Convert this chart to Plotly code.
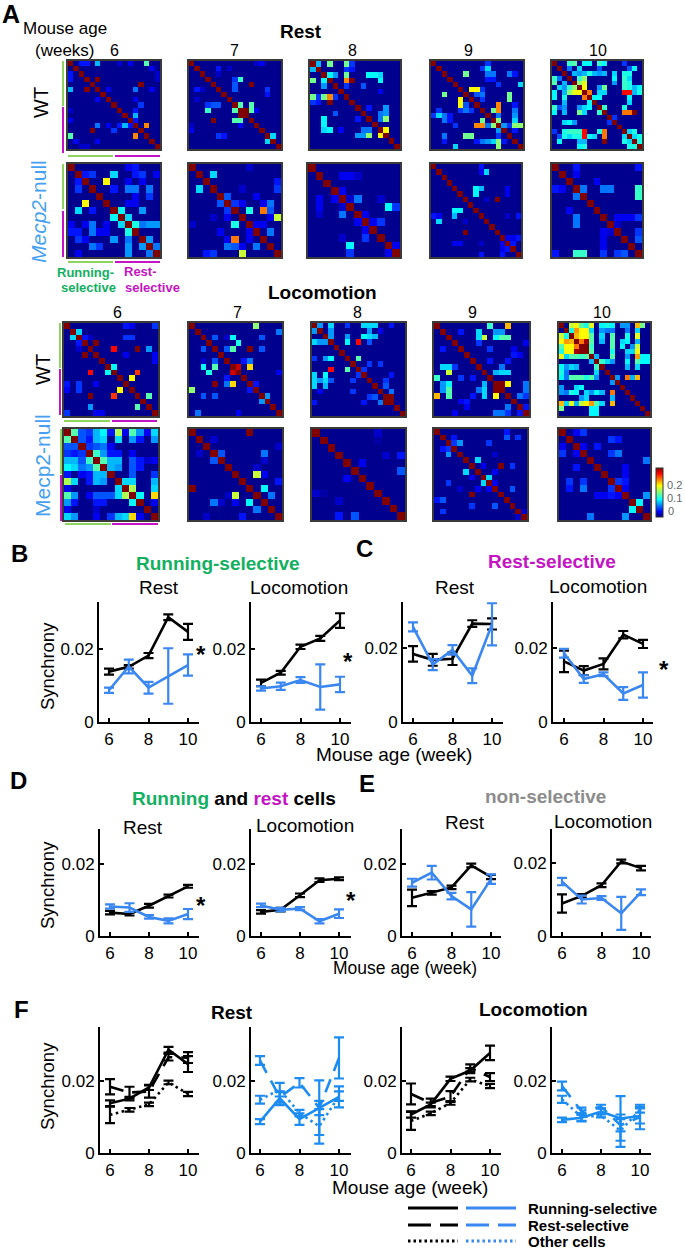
"""Synchrony matrices and synchrony vs. age panels (A-F)"""

import plotly.graph_objects as go

W, H = 685, 1250

# ---- panel A: sparse symmetric matrices, (row, col, synchrony) ----
rest_wt_sizes = [17, 17, 16, 17, 18]
rest_ko_sizes = [13, 13, 12, 17, 13]
loco_wt_sizes = [16, 16, 17, 16, 18]
loco_ko_sizes = [13, 13, 12, 16, 13]

rest_wt_6 = [(0, 5, .09), (0, 14, .14), (0, 2, .04), (0, 3, .04), (0, 9, .02), (0, 11, .03), (3, 5, .31),
             (4, 13, .31), (5, 12, .07), (10, 12, .09), (12, 14, .235), (8, 13, .05), (5, 15, .03),
             (9, 12, .04), (11, 12, .04), (2, 16, .02), (5, 7, .03), (1, 15, .03), (3, 16, .02), (7, 12, .03)]
rest_wt_7 = [(3, 9, .13), (4, 8, .06), (4, 11, .31), (8, 9, .14), (8, 11, .14), (9, 11, .14), (5, 8, .06),
             (9, 10, .31), (5, 14, .05), (14, 15, .1), (9, 12, .03), (6, 14, .04), (1, 5, .04), (0, 13, .03),
             (2, 5, .02), (0, 12, .02), (3, 8, .05), (1, 7, .02)]
rest_wt_8 = [(0, 1, .09), (0, 3, .15), (0, 6, .15), (2, 3, .11), (3, 2, .11), (2, 4, .08), (0, 6, .15),
             (3, 6, .235), (3, 7, .31), (2, 11, .11), (2, 10, .11), (3, 12, .11), (2, 12, .1), (4, 9, .06),
             (8, 13, .08), (9, 13, .08), (10, 13, .16), (9, 12, .07), (10, 12, .07), (12, 13, .2), (2, 6, .15),
             (0, 7, .05), (1, 7, .04), (5, 12, .03), (8, 10, .04), (4, 6, .05), (1, 6, .05)]
rest_wt_9 = [(2, 6, .15), (5, 7, .2), (5, 8, .16), (1, 10, .1), (2, 14, .08), (4, 16, .1), (6, 14, .15),
             (7, 14, .15), (1, 9, .05), (2, 11, .07), (2, 10, .07), (4, 12, .05), (6, 9, .07),
             (6, 8, .06), (7, 9, .05), (0, 10, .05), (2, 15, .04), (8, 5, .2), (9, 11, .15), (9, 12, .235),
             (12, 8, .235), (9, 15, .07), (11, 15, .1), (12, 15, .16), (12, 16, .16), (11, 12, .16),
             (2, 14, .07), (10, 12, .07), (12, 13, .08), (10, 15, .08), (8, 15, .04),
             (3, 11, .04), (3, 10, .04), (5, 9, .05), (12, 14, .05), (13, 15, .04)]
rest_wt_10 = [(0, 3, .13), (0, 4, .14), (0, 6, .11), (0, 7, .11), (0, 10, .1), (1, 3, .07), (1, 16, .13),
              (1, 15, .06), (2, 5, .08), (2, 6, .09), (2, 7, .12), (2, 8, .09), (2, 9, .08), (2, 12, .1),
              (2, 15, .12), (3, 6, .16), (4, 6, .19), (5, 6, .2), (6, 7, .24), (3, 5, .13), (4, 5, .16),
              (1, 5, .1), (2, 4, .09), (6, 10, .1), (6, 9, .1), (5, 10, .08), (5, 9, .08), (6, 15, .275),
              (5, 15, .12), (4, 15, .12), (3, 15, .1), (7, 15, .11), (6, 17, .12), (5, 17, .11), (0, 10, .11),
              (2, 10, .09), (5, 10, .15), (9, 10, .13), (10, 14, .15), (10, 15, .24), (10, 16, .31), (6, 9, .1),
              (7, 9, .11), (3, 12, .11), (4, 12, .08), (0, 14, .05), (2, 14, .12), (3, 14, .13), (4, 14, .13),
              (5, 14, .13), (6, 14, .275), (9, 14, .12), (10, 14, .24), (14, 16, .12), (14, 15, .1),
              (10, 16, .31), (1, 16, .11), (5, 16, .09), (6, 16, .09), (15, 16, .1), (16, 17, .12), (15, 17, .12),
              (0, 9, .13), (1, 9, .06), (7, 8, .11), (8, 15, .1), (11, 12, .05)]

rest_ko_6 = [(1, 6, .1), (2, 5, .2), (1, 2, .04), (1, 3, .05), (3, 8, .08), (3, 9, .07), (3, 6, .04),
             (3, 11, .07), (6, 7, .11), (6, 10, .08), (7, 8, .1), (8, 9, .12), (8, 10, .08), (8, 11, .08),
             (3, 8, .07), (3, 9, .07), (3, 11, .07), (4, 11, .05), (6, 10, .08), (8, 10, .07), (10, 11, .08),
             (8, 12, .08), (11, 12, .07), (1, 10, .05), (0, 9, .04), (0, 8, .03), (1, 9, .04), (2, 10, .03),
             (4, 9, .03), (5, 8, .03), (5, 9, .03), (2, 8, .03), (1, 12, .03)]
rest_ko_7 = [(1, 3, .1), (4, 5, .06), (5, 6, .05), (6, 8, .12), (6, 10, .24), (5, 11, .07), (7, 12, .18),
             (4, 9, .03), (5, 7, .03), (6, 11, .06), (9, 11, .07), (2, 12, .04), (3, 12, .05), (8, 10, .03),
             (7, 11, .03), (5, 10, .03), (0, 8, .02), (3, 7, .02), (8, 9, .03)]
rest_ko_8 = [(1, 4, .03), (1, 5, .03), (1, 6, .02), (4, 6, .07), (5, 10, .11), (5, 11, .05), (4, 5, .02),
             (7, 9, .05), (7, 8, .03), (5, 11, .05), (6, 7, .03), (10, 11, .03), (4, 9, .02), (3, 4, .03)]
rest_ko_9 = [(1, 10, .11), (4, 8, .11), (4, 9, .09), (5, 8, .11), (6, 12, .31), (1, 9, .03),
             (0, 9, .03), (9, 0, .04), (10, 1, .1), (5, 14, .03), (9, 16, .04), (13, 16, .04),
             (4, 14, .03), (14, 15, .04), (9, 14, .02), (13, 14, .03), (13, 15, .03), (6, 10, .02)]
rest_ko_10 = [(3, 4, .07), (0, 3, .05), (3, 7, .07), (3, 8, .07), (3, 12, .13), (4, 12, .13), (3, 0, .04),
              (7, 12, .05), (2, 6, .03), (9, 12, .05), (10, 12, .06), (7, 9, .03),
              (7, 10, .03), (7, 11, .03), (8, 9, .02), (1, 3, .03), (0, 12, .04)]

loco_wt_6 = [(1, 2, .1), (4, 8, .275), (3, 5, .31), (4, 12, .31), (4, 14, .08), (7, 8, .11), (9, 11, .2),
             (8, 12, .26), (12, 14, .14), (0, 15, .05), (0, 10, .04), (2, 10, .05), (2, 11, .05),
             (0, 11, .03), (6, 15, .03), (5, 15, .03), (2, 3, .04), (2, 4, .02), (5, 10, .03)]
loco_wt_7 = [(0, 11, .16), (1, 15, .08), (2, 7, .11), (3, 8, .12), (4, 7, .14), (2, 4, .06), (2, 6, .02),
             (4, 6, .06), (4, 10, .31), (2, 12, .05), (4, 12, .05), (7, 8, .29), (7, 10, .21), (6, 10, .07),
             (2, 12, .06), (4, 12, .06), (1, 15, .07), (12, 13, .08), (8, 15, .03), (6, 9, .04), (10, 11, .04)]
loco_wt_8 = [(0, 1, .08), (0, 3, .1), (0, 9, .1), (0, 10, .1), (0, 11, .06), (0, 14, .04), (1, 3, .08), (2, 3, .08),
             (3, 6, .11), (3, 8, .275), (2, 9, .11), (2, 10, .1), (6, 8, .14), (2, 6, .08), (0, 6, .05),
             (0, 11, .1), (1, 10, .08), (2, 11, .09), (3, 10, .06), (7, 10, .05), (8, 9, .05), (7, 12, .05),
             (10, 13, .05), (12, 14, .07), (13, 14, .31), (11, 13, .06), (0, 14, .04), (1, 12, .03), (9, 14, .04)]
loco_wt_9 = [(0, 9, .13), (0, 12, .22), (1, 7, .1), (2, 8, .18), (2, 7, .1), (2, 11, .14), (2, 12, .14),
             (2, 10, .11), (8, 11, .1), (8, 12, .1), (8, 10, .09), (10, 12, .2), (10, 11, .31), (10, 15, .07),
             (11, 15, .07), (12, 14, .07), (1, 10, .08), (1, 11, .08), (7, 11, .07), (4, 9, .05), (3, 7, .05),
             (6, 12, .04), (5, 13, .04), (6, 9, .04), (1, 4, .04), (14, 15, .04), (12, 15, .05),
             (4, 13, .03), (3, 15, .03), (5, 14, .03)]
loco_wt_10 = [(0, 2, .18), (0, 3, .2), (0, 4, .14), (0, 5, .12), (0, 6, .19), (0, 8, .11), (0, 9, .12),
              (0, 10, .11), (0, 13, .08), (0, 15, .22), (0, 16, .15), (1, 2, .12), (1, 3, .23), (1, 4, .2),
              (1, 5, .2), (1, 6, .1), (1, 8, .08), (1, 9, .07), (1, 10, .07), (1, 13, .07), (1, 15, .1),
              (2, 3, .22), (2, 4, .2), (2, 5, .2), (2, 6, .14), (2, 8, .1), (2, 10, .14), (2, 13, .12),
              (2, 15, .19), (3, 4, .24), (3, 5, .3), (3, 6, .14), (3, 8, .09), (3, 10, .14), (3, 13, .11),
              (3, 15, .09), (4, 5, .31), (4, 6, .13), (4, 10, .14), (4, 15, .18), (4, 14, .08), (5, 6, .14),
              (5, 10, .12), (5, 13, .1), (5, 14, .1), (5, 15, .2), (6, 10, .14), (6, 7, .09), (6, 13, .08),
              (6, 15, .23), (6, 16, .11), (6, 17, .11), (7, 8, .13), (7, 9, .1), (7, 10, .08), (7, 13, .11),
              (7, 16, .11), (7, 17, .11), (10, 13, .24), (10, 14, .09), (10, 15, .22), (3, 12, .1), (4, 12, .11),
              (0, 12, .08), (7, 15, .14), (8, 15, .1), (8, 13, .09), (10, 11, .08)]

loco_ko_6 = [(0, 1, .14), (0, 2, .06), (0, 3, .05), (0, 4, .09), (0, 5, .11), (0, 6, .04), (0, 7, .17),
             (0, 8, .03), (0, 9, .14), (0, 10, .08), (0, 11, .03), (0, 12, .1), (1, 2, .06), (1, 3, .04),
             (1, 4, .09), (1, 5, .1), (1, 7, .1), (1, 9, .08), (1, 10, .04), (1, 12, .08), (2, 3, .05),
             (2, 4, .06), (2, 5, .07), (2, 6, .03), (3, 4, .13), (3, 5, .08), (3, 6, .04), (3, 7, .04),
             (3, 9, .03), (4, 5, .14), (4, 6, .09), (4, 7, .09), (4, 9, .06), (4, 10, .04), (4, 12, .03),
             (5, 6, .09), (5, 7, .08), (5, 9, .06), (5, 10, .04), (6, 9, .06), (6, 12, .05), (7, 9, .1),
             (7, 12, .09), (8, 9, .17), (8, 12, .1), (9, 10, .11), (9, 12, .21), (7, 8, .1), (4, 11, .02),
             (10, 12, .03)]
loco_ko_7 = [(0, 8, .31), (6, 9, .18), (3, 10, .07), (3, 4, .06), (8, 10, .11), (9, 11, .07), (6, 10, .03),
             (2, 12, .02), (7, 12, .04), (1, 3, .02), (5, 9, .02), (4, 10, .02)]
loco_ko_8 = [(3, 11, .04), (5, 11, .06), (4, 6, .03), (3, 9, .02), (1, 8, .01), (0, 8, .02)]
loco_ko_9 = [(2, 4, .08), (5, 7, .1), (8, 9, .1), (6, 11, .31), (6, 13, .05), (1, 12, .06), (1, 14, .05),
             (0, 12, .04), (2, 9, .05), (10, 13, .06), (9, 10, .03), (2, 3, .05), (7, 10, .03),
             (1, 3, .04), (6, 8, .03), (4, 10, .02), (14, 15, .02)]
loco_ko_10 = [(3, 7, .05), (3, 8, .07), (4, 12, .07), (1, 7, .05), (1, 8, .04), (10, 11, .11),
              (9, 12, .08), (8, 9, .03), (7, 8, .05), (7, 9, .04), (0, 2, .03), (0, 3, .05),
              (2, 5, .04), (2, 3, .03), (5, 9, .03), (6, 9, .03)]

# ---- panels B-F: mean and error per week ----
ages = [6, 7, 8, 9, 10]

b_rest_wt = [.0138, .0151, .0182, .0287, .0247]
b_rest_wt_err = [.0008, .0005, .0007, .0008, .0022]
b_rest_ko = [.0087, .0152, .0094, .0126, .0156]
b_rest_ko_err = [.0007, .0019, .0016, .0076, .0029]
b_loco_wt = [.0107, .0135, .0206, .0229, .0278]
b_loco_wt_err = [.0009, .0005, .0006, .0007, .0020]
b_loco_ko = [.0092, .0098, .0115, .0096, .0103]
b_loco_ko_err = [.0006, .0010, .0008, .0062, .0021]

c_rest_wt = [.0184, .0168, .0171, .0266, .0265]
c_rest_wt_err = [.0021, .0016, .0017, .0009, .0015]
c_rest_ko = [.0257, .0155, .0195, .0125, .0264]
c_rest_ko_err = [.0012, .0015, .0013, .0020, .0057]
c_loco_wt = [.0164, .0139, .0157, .0236, .0211]
c_loco_wt_err = [.0029, .0012, .0015, .0010, .0011]
c_loco_ko = [.0186, .0116, .0129, .0077, .0100]
c_loco_ko_err = [.0012, .0010, .0005, .0017, .0034]

d_rest_wt = [.0065, .0061, .0084, .0111, .0138]
d_rest_wt_err = [.0005, .0004, .0005, .0004, .0004]
d_rest_ko = [.0082, .0079, .0053, .0042, .0061]
d_rest_ko_err = [.0006, .0012, .0005, .0007, .0014]
d_loco_wt = [.0067, .0073, .0113, .0155, .0159]
d_loco_wt_err = [.0005, .0005, .0005, .0005, .0004]
d_loco_ko = [.0085, .0073, .0076, .0041, .0062]
d_loco_ko_err = [.0005, .0005, .0004, .0006, .0012]

e_rest_wt = [.0106, .0120, .0135, .0196, .0164]
e_rest_wt_err = [.0023, .0005, .0005, .0005, .0006]
e_rest_ko = [.0148, .0176, .0111, .0074, .0158]
e_rest_ko_err = [.0011, .0019, .0009, .0048, .0013]
e_loco_wt = [.0089, .0110, .0139, .0204, .0186]
e_loco_wt_err = [.0025, .0005, .0005, .0005, .0006]
e_loco_ko = [.0149, .0100, .0104, .0062, .0120]
e_loco_ko_err = [.0010, .0011, .0005, .0045, .0008]

BLACK = "#000000"
BLUE = "#3b87f2"
BLUE_F = "#1c8cf2"
GREEN_TXT = "#12b060"
MAGENTA = "#c414c4"
LIME = "#8fd45e"
FONT = "Liberation Sans"

JET = [[0, "#000080"], [.11, "#0000ff"], [.36, "#00ffff"], [.64, "#ffff00"], [.89, "#ff0000"], [1, "#800000"]]
Z_MAX = 0.31

fig = go.Figure()
layout_axes = {}
shapes = []
notes = []
axis_count = 0


def new_axes(left, right, top, bottom):
    global axis_count
    axis_count += 1
    i = "" if axis_count == 1 else str(axis_count)
    xa = dict(domain=[left / W, right / W], anchor=f"y{i}")
    ya = dict(domain=[1 - bottom / H, 1 - top / H], anchor=f"x{i}")
    layout_axes[f"xaxis{i}"] = xa
    layout_axes[f"yaxis{i}"] = ya
    return f"x{i}", f"y{i}", xa, ya


def add_matrix(entries, n, left, right, top, bottom):
    xn, yn, xa, ya = new_axes(left, right, top, bottom)
    z = [[0.004] * n for _ in range(n)]
    for k in range(n):
        z[k][k] = Z_MAX
    for r, c, v in entries:
        if r < n and c < n:
            z[r][c] = v
            z[c][r] = v
    fig.add_trace(go.Heatmap(z=z, xaxis=xn, yaxis=yn, coloraxis="coloraxis", hoverinfo="skip"))
    frame = dict(showline=True, mirror=True, linewidth=1.5, linecolor="#3a3a3a", showticklabels=False,
                 ticks="", showgrid=False, zeroline=False)
    xa.update(range=[-.5, n - .5], **frame)
    ya.update(range=[n - .5, -.5], **frame)


def line_axes(left, right, top, bottom, y02, t6, t10):
    xn, yn, xa, ya = new_axes(left, right, top, bottom)
    per = (t10 - t6) / 4
    xa.update(range=[6 - (t6 - left) / per, 10 + (right - t10) / per], tickvals=[6, 8, 10], ticktext=["6", "8", "10"],
              ticks="inside", ticklen=4, tickwidth=2, tickcolor=BLACK, showline=True, linewidth=2, linecolor=BLACK,
              showgrid=False, zeroline=False, tickfont=dict(size=17, color=BLACK, family=FONT), ticklabelstandoff=1)
    ya.update(range=[0, (bottom - top) / (bottom - y02) * .02], tickvals=[0, .02], ticktext=["0", "0.02"],
              ticks="inside", ticklen=4, tickwidth=2, tickcolor=BLACK, showline=True, linewidth=2, linecolor=BLACK,
              showgrid=False, zeroline=False, tickfont=dict(size=17, color=BLACK, family=FONT), ticklabelstandoff=0)
    return xn, yn


def add_series(ax, mean, err, color, dash="solid"):
    fig.add_trace(go.Scatter(
        x=ages, y=mean, mode="lines", xaxis=ax[0], yaxis=ax[1], cliponaxis=False,
        line=dict(color=color, width=2.6, dash=dash),
        error_y=dict(type="data", array=err, visible=True, color=color, thickness=2.2, width=5),
        hoverinfo="skip",
    ))


def txt(x, y, text, size=17, color=BLACK, bold=False, angle=0, left=False):
    if bold:
        text = f"<b>{text}</b>"
    notes.append(dict(x=x / W, y=1 - y / H, xref="paper", yref="paper", text=text, showarrow=False, textangle=angle,
                      xanchor="left" if left else "center", yanchor="middle",
                      font=dict(size=size, color=color, family=FONT)))


def bar(x0, y0, x1, y1, color, width=2, dash="solid"):
    shapes.append(dict(type="line", xref="paper", yref="paper", x0=x0 / W, x1=x1 / W, y0=1 - y0 / H, y1=1 - y1 / H,
                       line=dict(color=color, width=width, dash=dash)))


# ---- A: matrices ----
rest_cols = [(68, 160), (189, 281), (310, 400), (431, 523), (552, 642)]
rest_cols_ko = [(68, 160), (189, 281), (308, 400), (431, 521), (552, 642)]
loco_cols = [(64, 158), (189, 282), (312, 405), (434, 529), (559, 650)]
loco_cols_ko = [(64, 158), (189, 282), (312, 405), (434, 527), (559, 650)]

rest_wt = [rest_wt_6, rest_wt_7, rest_wt_8, rest_wt_9, rest_wt_10]
rest_ko = [rest_ko_6, rest_ko_7, rest_ko_8, rest_ko_9, rest_ko_10]
loco_wt = [loco_wt_6, loco_wt_7, loco_wt_8, loco_wt_9, loco_wt_10]
loco_ko = [loco_ko_6, loco_ko_7, loco_ko_8, loco_ko_9, loco_ko_10]

for k in range(5):
    add_matrix(rest_wt[k], rest_wt_sizes[k], *rest_cols[k], 61, 149)
    add_matrix(rest_ko[k], rest_ko_sizes[k], *rest_cols_ko[k], 164, 257)
    add_matrix(loco_wt[k], loco_wt_sizes[k], *loco_cols[k], 323, 416)
    add_matrix(loco_ko[k], loco_ko_sizes[k], *loco_cols_ko[k], 429, 520)

# selectivity bars beside and under the matrices
bar(63, 61, 63, 106, LIME)
bar(63, 107, 63, 153, MAGENTA)
bar(63, 164, 63, 209, LIME)
bar(63, 211, 63, 257, MAGENTA)
bar(68, 156, 113, 156, LIME)
bar(115, 156, 160, 156, MAGENTA)
bar(68, 262, 113, 262, LIME)
bar(115, 262, 160, 262, MAGENTA)
bar(60, 323, 60, 368, LIME)
bar(60, 369, 60, 415, MAGENTA)
bar(61, 429, 61, 474, LIME)
bar(61, 475, 61, 521, MAGENTA)
bar(64, 421, 110, 421, LIME)
bar(112, 421, 157, 421, MAGENTA)
bar(65, 524, 111, 524, LIME)
bar(112, 524, 158, 524, MAGENTA)

txt(11, 14, "A", 25, bold=True)
txt(65, 29, "Mouse age", 17)
txt(65, 50, "(weeks)", 17)
for label, x in zip(["6", "7", "8", "9", "10"], [114, 234, 353, 468, 598]):
    txt(x, 50, label, 16)
for label, x in zip(["6", "7", "8", "9", "10"], [117, 237, 357, 472, 602]):
    txt(x, 312, label, 16)
txt(301, 31, "Rest", 19, bold=True)
txt(322, 293, "Locomotion", 19, bold=True)
txt(41, 103, "WT", 20, angle=-90)
txt(43, 370, "WT", 20, angle=-90)
txt(39, 212, "<i>Mecp2</i>-null", 21, "#45a0f2", angle=-90)
txt(42, 466, "Mecp2-null", 21, "#45a0f2", angle=-90)
txt(85, 272, "Running-", 13, GREEN_TXT, bold=True)
txt(88, 287, "selective", 13, GREEN_TXT, bold=True)
txt(140, 271, "Rest-", 13, MAGENTA, bold=True)
txt(152, 287, "selective", 13, MAGENTA, bold=True)
txt(674, 485, "0.2", 11, "#666666")
txt(674, 498, "0.1", 11, "#666666")
txt(671, 511, "0", 11, "#666666")

# ---- B-E ----
ax = line_axes(99, 199, 602, 722, 649, 109, 188)
add_series(ax, b_rest_wt, b_rest_wt_err, BLACK)
add_series(ax, b_rest_ko, b_rest_ko_err, BLUE)
ax = line_axes(251, 351, 602, 722, 649, 261, 340)
add_series(ax, b_loco_wt, b_loco_wt_err, BLACK)
add_series(ax, b_loco_ko, b_loco_ko_err, BLUE)
ax = line_axes(403, 503, 602, 722, 648, 413, 492)
add_series(ax, c_rest_wt, c_rest_wt_err, BLACK)
add_series(ax, c_rest_ko, c_rest_ko_err, BLUE)
ax = line_axes(553, 653, 602, 722, 648, 564, 643)
add_series(ax, c_loco_wt, c_loco_wt_err, BLACK)
add_series(ax, c_loco_ko, c_loco_ko_err, BLUE)
ax = line_axes(100, 199, 829, 936, 864, 110, 188)
add_series(ax, d_rest_wt, d_rest_wt_err, BLACK)
add_series(ax, d_rest_ko, d_rest_ko_err, BLUE)
ax = line_axes(251, 351, 829, 936, 864, 261, 339)
add_series(ax, d_loco_wt, d_loco_wt_err, BLACK)
add_series(ax, d_loco_ko, d_loco_ko_err, BLUE)
ax = line_axes(402, 501, 829, 936, 864, 412, 491)
add_series(ax, e_rest_wt, e_rest_wt_err, BLACK)
add_series(ax, e_rest_ko, e_rest_ko_err, BLUE)
ax = line_axes(552, 651, 829, 936, 863, 562, 641)
add_series(ax, e_loco_wt, e_loco_wt_err, BLACK)
add_series(ax, e_loco_ko, e_loco_ko_err, BLUE)

# ---- F: the same series, split by genotype ----
DASH = "14px,9px"
DOT = "2.5px,3.5px"
ax = line_axes(100, 199, 1027, 1153, 1081, 110, 188)
add_series(ax, e_rest_wt, e_rest_wt_err, BLACK, DOT)
add_series(ax, c_rest_wt, c_rest_wt_err, BLACK, DASH)
add_series(ax, b_rest_wt, b_rest_wt_err, BLACK)
ax = line_axes(251, 351, 1027, 1153, 1081, 260, 339)
add_series(ax, e_rest_ko, e_rest_ko_err, BLUE_F, DOT)
add_series(ax, c_rest_ko, c_rest_ko_err, BLUE_F, DASH)
add_series(ax, b_rest_ko, b_rest_ko_err, BLUE_F)
ax = line_axes(402, 501, 1027, 1153, 1081, 411, 490)
add_series(ax, e_loco_wt, e_loco_wt_err, BLACK, DOT)
add_series(ax, c_loco_wt, c_loco_wt_err, BLACK, DASH)
add_series(ax, b_loco_wt, b_loco_wt_err, BLACK)
ax = line_axes(552, 651, 1027, 1153, 1081, 562, 640)
add_series(ax, e_loco_ko, e_loco_ko_err, BLUE_F, DOT)
add_series(ax, c_loco_ko, c_loco_ko_err, BLUE_F, DASH)
add_series(ax, b_loco_ko, b_loco_ko_err, BLUE_F)

# ---- panel text ----
txt(19, 553, "B", 24, bold=True)
txt(218, 563, "Running-selective", 19, GREEN_TXT, bold=True)
txt(159, 588, "Rest", 19)
txt(299, 588, "Locomotion", 19)
txt(47, 666, "Synchrony", 18.5, angle=-90)
txt(201, 654, "*", 24, bold=True)
txt(348, 661, "*", 24, bold=True)

txt(364, 548, "C", 24, bold=True)
txt(552, 561, "Rest-selective", 19, MAGENTA, bold=True)
txt(455, 588, "Rest", 19)
txt(598, 586, "Locomotion", 19)
txt(664, 669, "*", 24, bold=True)
txt(394, 754, "Mouse age (week)", 19)

txt(18, 780, "D", 24, bold=True)
txt(234, 798, f'<span style="color:{GREEN_TXT}">Running</span> and '
              f'<span style="color:{MAGENTA}">rest</span> cells', 19, bold=True)
txt(143, 827, "Rest", 19)
txt(305, 825, "Locomotion", 19)
txt(47, 885, "Synchrony", 18.5, angle=-90)
txt(201, 905, "*", 24, bold=True)
txt(351, 900, "*", 24, bold=True)

txt(367, 783, "E", 24, bold=True)
txt(545, 797, "non-selective", 19, "#8c8c8c", bold=True)
txt(465, 822, "Rest", 19)
txt(603, 821, "Locomotion", 19)
txt(405, 968, "Mouse age (week)", 17.5)

txt(21, 1009, "F", 24, bold=True)
txt(232, 1012, "Rest", 19, bold=True)
txt(533, 1009, "Locomotion", 19, bold=True)
txt(47, 1086, "Synchrony", 18.5, angle=-90)
txt(410, 1187, "Mouse age (week)", 19)

# ---- key for F ----
for y, name, dash in [(1208, "Running-selective", "solid"),
                      (1225, "Rest-selective", "23px,9px"),
                      (1241, "Other cells", "2.5px,3px")]:
    bar(408, y, 458, y, BLACK, 3, dash)
    bar(466, y, 516, y, BLUE, 3, dash)
    txt(526, y, name, 15, bold=True, left=True)

fig.update_layout(
    width=W,
    height=H,
    autosize=False,
    margin=dict(l=0, r=0, t=0, b=0, autoexpand=False),
    paper_bgcolor="white",
    plot_bgcolor="white",
    showlegend=False,
    shapes=shapes,
    annotations=notes,
    font=dict(family=FONT),
    coloraxis=dict(
        colorscale=JET, cmin=0, cmax=Z_MAX,
        colorbar=dict(x=656 / W, xanchor="left", y=1 - 468 / H, yanchor="top", thickness=7, len=49, lenmode="pixels",
                      thicknessmode="pixels", xpad=0, ypad=0, outlinewidth=1, outlinecolor="#333333",
                      showticklabels=False, ticks=""),
    ),
    **layout_axes,
)

fig.write_html("out.html", post_script="document.body.style.margin='0';", config={"displayModeBar": False})
